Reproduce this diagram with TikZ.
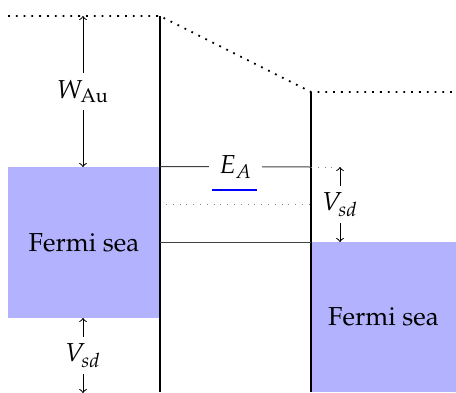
\documentclass[tikz,border=0pt]{standalone}
\usepackage[T1]{fontenc}
\usepackage{mathpazo}
\begin{document}
\begin{tikzpicture}[
  x=0.5pt, y=-0.5pt,
  font=\fontsize{13}{16}\selectfont,
  barrier/.style={line width=1pt},
  vacuum/.style={line width=0.9pt, dash pattern=on 0.9pt off 3pt},
  sea/.style={fill=blue!30, inner sep=0pt},
  level/.style={draw=black!75, line width=0.5pt},
  guide/.style={draw=black!50, line width=0.4pt, dash pattern=on 0.4pt off 3pt},
  bias/.style={<->, >=to, line width=0.5pt},
  lbl/.style={fill=white, inner sep=3.5pt}
]
\useasboundingbox (0,0) rectangle (456,392);
% electrodes
\node[sea, minimum width=76pt, minimum height=75.5pt] (seaL) at (84,242.5) {Fermi sea};
\node[sea, minimum width=72.5pt, minimum height=75pt] (seaR) at (383.5,317) {Fermi sea};
% vacuum level and barrier
\coordinate (vacL) at (8,16);
\coordinate (barL) at (160,16);
\coordinate (barR) at (311,92);
\coordinate (vacR) at (456,92);
\coordinate (botL) at (160,392);
\coordinate (botR) at (311,392);
\draw[vacuum] (vacL) -- (barL) -- (barR) -- (vacR);
\draw[barrier] (barL) -- (botL);
\draw[barrier] (barR) -- (botR);
% levels in the gap
\coordinate (lvlA) at (311,167);
\coordinate (lvlB) at (311,204);
\coordinate (lvlC) at (311,242);
\coordinate (tipA) at (336,167);
\draw[level] (seaL.north east) -- node[lbl, inner xsep=5pt] (EA) {$E_A$} (lvlA);
\draw[blue, line width=0.8pt] (212,190) -- (257,190);
\draw[guide] (166,204) -- (lvlB);
\draw[guide] (lvlA) -- (tipA);
\draw[level] (seaL.north east |- lvlC) -- (lvlC);
% biases
\coordinate (wTop) at (83,16);
\coordinate (wBot) at (83,167);
\coordinate (vTop) at (340,167);
\coordinate (vBot) at (340,242);
\coordinate (sTop) at (83,318);
\coordinate (sBot) at (83,393);
\draw[bias] (wTop) -- node[lbl] (WAu) {$W_{\mathrm{Au}}$} (wBot);
\draw[bias] (vTop) -- node[lbl] (VsdR) {$V_{sd}$} (vBot);
\draw[bias] (sTop) -- node[lbl] (VsdL) {$V_{sd}$} (sBot);
\end{tikzpicture}
\end{document}
